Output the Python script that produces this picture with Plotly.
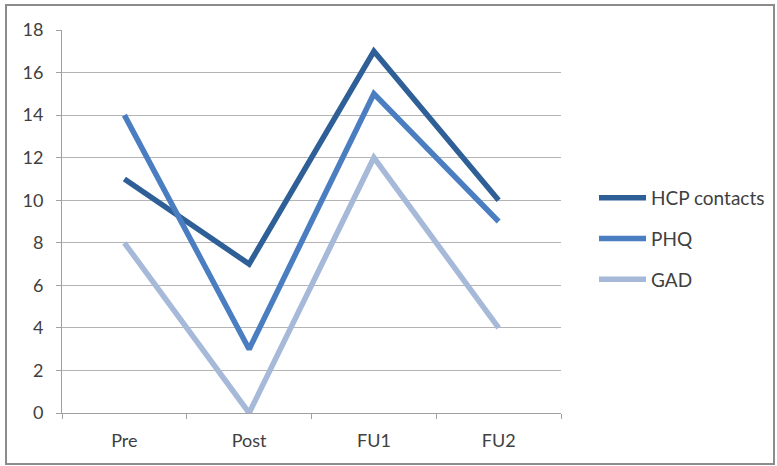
import plotly.graph_objects as go

categories = ["Pre", "Post", "FU1", "FU2"]
hcp_contacts = [11, 7, 17, 10]
phq = [14, 3, 15, 9]
gad = [8, 0, 12, 4]
y_ticks = list(range(0, 19, 2))

W, H = 777, 466
plot_l, plot_r, plot_t, plot_b = 62, 561, 30, 413

fig = go.Figure()
series = [
    ("HCP contacts", hcp_contacts, "#2f5f97"),
    ("PHQ", phq, "#4a7ec1"),
    ("GAD", gad, "#a6b9d9"),
]
for name, vals, color in series:
    fig.add_trace(go.Scatter(
        x=categories, y=vals, name=name, mode="lines",
        line=dict(color=color, width=5.5),
        legendgroup=name,
    ))

fig.update_layout(
    width=W, height=H, autosize=False,
    margin=dict(l=0, r=0, t=0, b=0, pad=0),
    paper_bgcolor="white", plot_bgcolor="white",
    font=dict(family="Lato, Liberation Sans, sans-serif", size=18, color="#404040"),
    showlegend=True,
    legend=dict(
        x=594 / W, y=1 - 179 / H, xanchor="left", yanchor="top",
        itemwidth=47, tracegroupgap=13, font=dict(size=19, color="#404040"),
        bgcolor="rgba(0,0,0,0)",
    ),
    xaxis=dict(
        domain=[plot_l / W, plot_r / W],
        type="category", range=[-0.5, 3.5],
        showgrid=False, showline=True, linecolor="#a0a0a0", linewidth=1,
        ticks="outside", tickson="boundaries", ticklen=5, tickcolor="#a0a0a0",
        ticklabelstandoff=11,
        zeroline=False, automargin=False,
    ),
    yaxis=dict(
        domain=[1 - plot_b / H, 1 - plot_t / H],
        range=[0, 18], tickvals=y_ticks,
        showgrid=True, gridcolor="#b4b4b4", gridwidth=1,
        showline=True, linecolor="#a0a0a0", linewidth=1,
        ticks="outside", ticklen=5, tickcolor="#a0a0a0",
        ticklabelstandoff=9,
        zeroline=False, automargin=False,
    ),
    shapes=[dict(
        type="rect", xref="paper", yref="paper",
        x0=6 / W, x1=774 / W, y0=1 - 464 / H, y1=1 - 5 / H,
        line=dict(color="#8c8c8c", width=2), layer="below",
    )],
)

fig.write_html("out.html", config={"responsive": False})
